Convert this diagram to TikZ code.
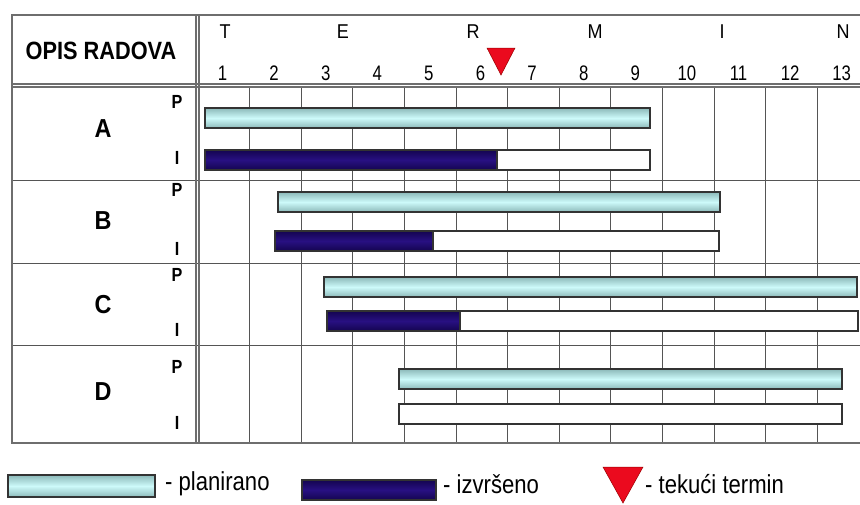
\documentclass[tikz,border=0pt]{standalone}
\usepackage{fontspec}
\setmainfont{Liberation Sans}
\usetikzlibrary{shapes.geometric}
\definecolor{gridc}{RGB}{85,85,85}
\definecolor{cyanmid}{RGB}{205,250,250}
\definecolor{cyanedge}{RGB}{140,185,185}
\definecolor{navymid}{RGB}{40,16,130}
\definecolor{navyedge}{RGB}{20,5,80}
\definecolor{redtri}{RGB}{235,10,30}
\tikzset{
  gridline/.style={draw=gridc, line width=0.9pt},
  frameline/.style={draw=gridc!85, line width=1.1pt},
  planbar/.style={draw=black!80, line width=1.1pt, top color=cyanedge, bottom color=cyanedge, middle color=cyanmid},
  donebar/.style={draw=black!80, line width=1.1pt, top color=navyedge, bottom color=navyedge, middle color=navymid},
  restbar/.style={draw=black!80, line width=1.1pt, fill=white},
  termtri/.style={fill=redtri, draw=red!60!black, line width=0.5pt},
  headlbl/.style={font=\bfseries\fontsize{25}{25}\selectfont, inner sep=0pt, xscale=0.87},
  rowlbl/.style={font=\bfseries\fontsize{26}{26}\selectfont, inner sep=0pt, xscale=0.9},
  pilbl/.style={font=\bfseries\fontsize{19}{19}\selectfont, inner sep=0pt, xscale=0.85},
  letlbl/.style={font=\fontsize{20}{20}\selectfont, inner sep=0pt, xscale=0.9},
  numlbl/.style={font=\fontsize{21}{21}\selectfont, inner sep=0pt, xscale=0.8},
  leglbl/.style={font=\fontsize{26}{26}\selectfont, inner sep=0pt, anchor=west, xscale=0.85}
}
\begin{document}
\begin{tikzpicture}[x=1pt,y=-1pt]
\useasboundingbox[fill=white] (0,0) rectangle (860,504);
% vertical grid lines in chart area
\foreach \i in {1,...,12} {
  \draw[gridline] ({198+51.6*\i},86) -- ({198+51.6*\i},443);
}
% row lines
\foreach \yy in {180,263,345} {
  \draw[gridline] (12,\yy) -- (860,\yy);
}
% frame
\draw[frameline] (860,15) -- (12,15) -- (12,443) -- (860,443);
\draw[frameline] (12,84) -- (860,84);
\draw[frameline] (12,87) -- (860,87);
\draw[frameline] (196,15) -- (196,443);
\draw[frameline] (199,15) -- (199,443);

% header
\node[headlbl] (opis) at (101,51) {OPIS RADOVA};
\foreach \l/\xx [count=\k] in {T/225,E/343,R/473,M/595,I/722,N/843} {
  \node[letlbl] (let\k) at (\xx,32) {\l};
}
\foreach \i in {1,...,13} {
  \node[numlbl] (num\i) at ({222.5+51.6*(\i-1)},73) {\i};
}
\draw[termtri] (487,48) -- (515,48) -- (501,75) -- cycle;

% row labels
\foreach \l/\yy/\py/\iy in {A/129/102/158, B/221/190/249, C/305/275/330, D/392/367/423} {
  \node[rowlbl] (row\l) at (103,\yy) {\l};
  \node[pilbl] (p\l) at (177,\py) {P};
  \node[pilbl] (i\l) at (177,\iy) {I};
}

% bars A
\path[planbar] (205,108) rectangle (650,128);
\path[restbar] (205,150) rectangle (650,170);
\path[donebar] (205,150) rectangle (497,170);
% bars B
\path[planbar] (278,192) rectangle (720,212);
\path[restbar] (275,231) rectangle (719,251);
\path[donebar] (275,231) rectangle (433,251);
% bars C
\path[planbar] (324,277) rectangle (857,297);
\path[restbar] (327,311) rectangle (858,331);
\path[donebar] (327,311) rectangle (460,331);
% bars D
\path[planbar] (399,369) rectangle (842,389);
\path[restbar] (399,404) rectangle (842,424);

% legend
\path[planbar] (8,475) rectangle (155,497);
\node[leglbl] (lplan) at (165,484) {- planirano};
\path[donebar] (302,480) rectangle (436,500);
\node[leglbl] (ldone) at (443,484) {- izvršeno};
\draw[termtri] (603,467) -- (643,467) -- (623,503) -- cycle;
\node[leglbl] (lterm) at (645,484) {- tekući termin};
\end{tikzpicture}
\end{document}
